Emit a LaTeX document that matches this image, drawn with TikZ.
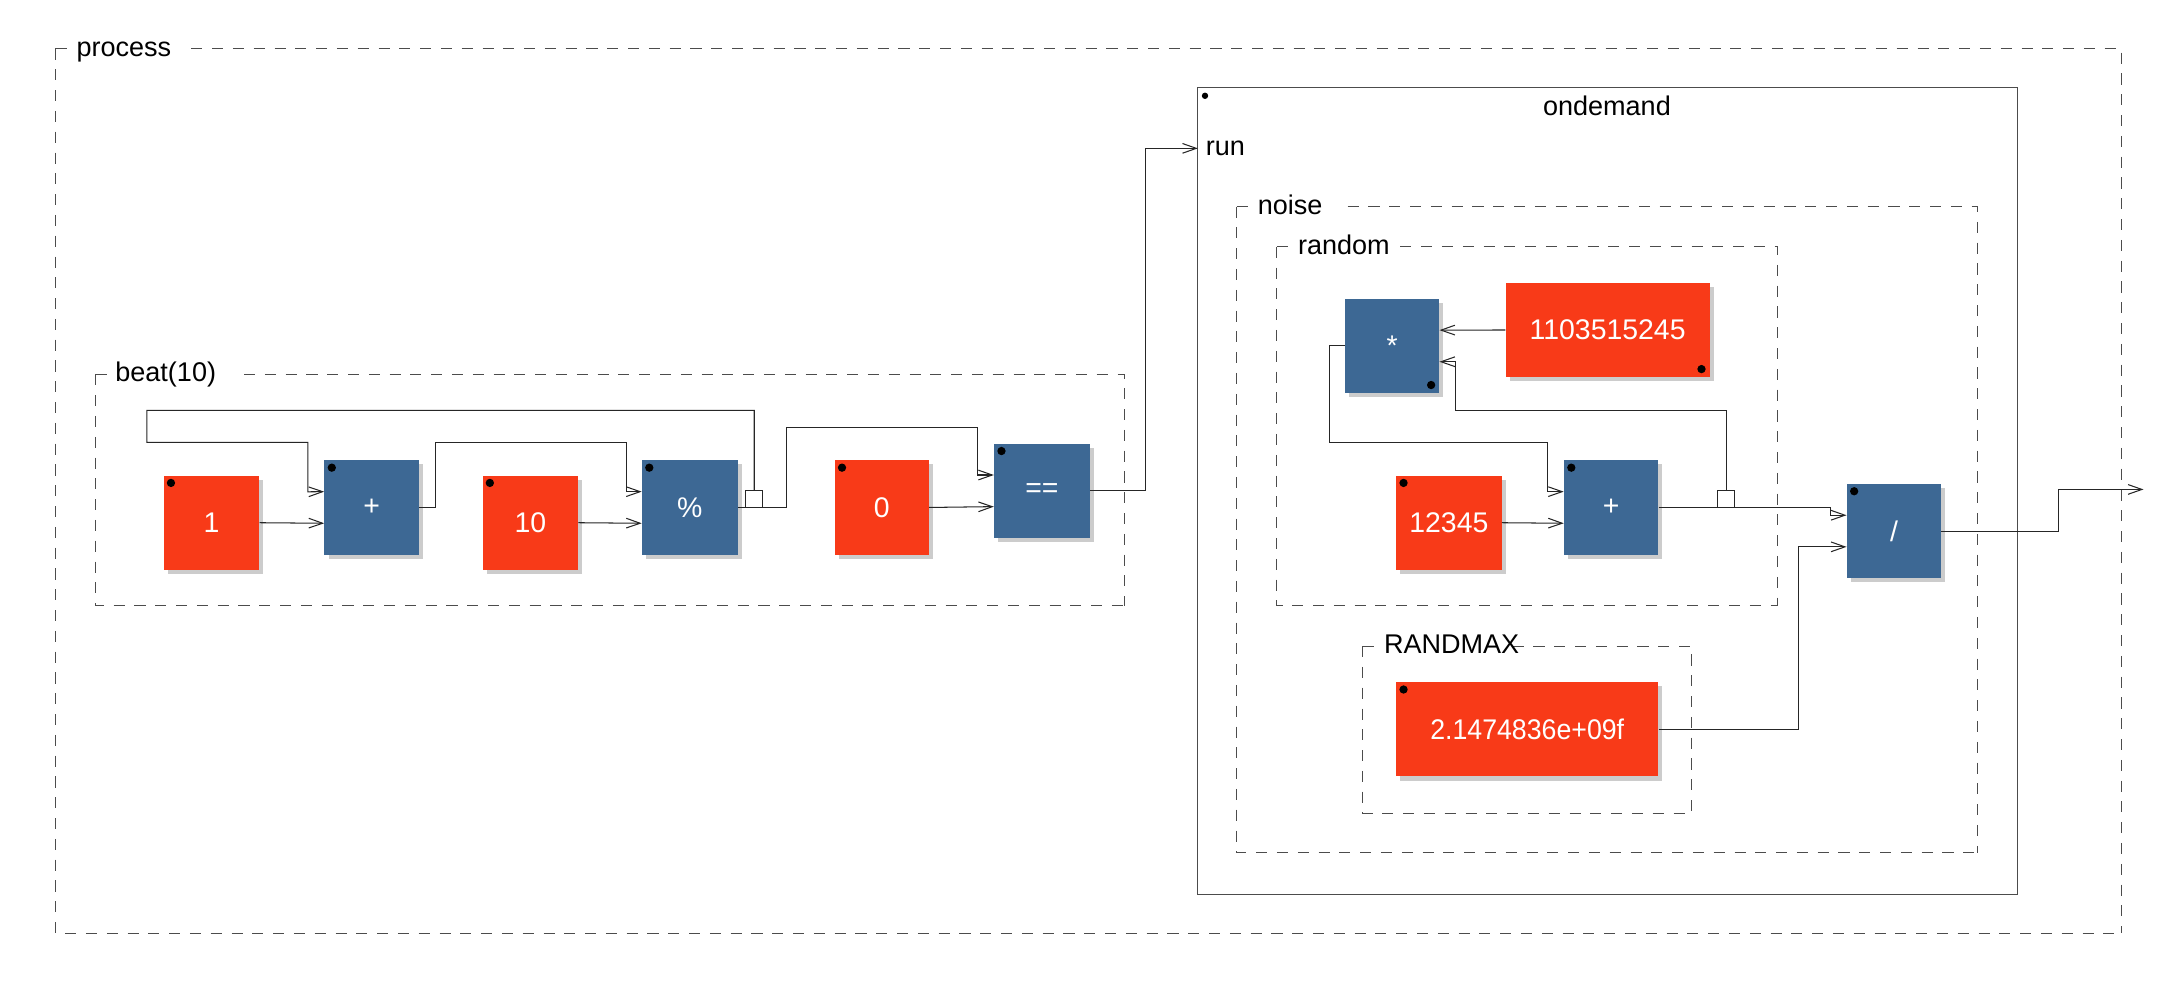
\documentclass[tikz,border=0pt]{standalone}
\usepackage{fontspec}
\usepackage{graphicx}
\newfontfamily\diafont{Liberation Sans}
\usetikzlibrary{arrows.meta,shadows,calc}
\definecolor{numred}{HTML}{F83A18}
\definecolor{opblue}{HTML}{3D6894}
\definecolor{shadowgray}{HTML}{CCCCCC}
\newcommand{\dfont}{\diafont\fontsize{19.5}{23}\selectfont}
\newcommand{\bfontx}{\diafont\fontsize{20.5}{24}\selectfont}
\tikzset{
  wire/.style={line width=0.75pt, draw=black!85},
  arr/.style={-{Straight Barb[length=10pt,width=7pt,line width=0.75pt]}},
  blk/.style={minimum width=68pt, minimum height=68pt, inner sep=0pt, text=white, font=\bfontx,
    general shadow={fill=shadowgray, shadow xshift=3pt, shadow yshift=-3pt}},
  numblk/.style={blk, fill=numred},
  opblk/.style={blk, fill=opblue},
  grp/.style={draw=black!70, line width=0.75pt, dash pattern=on 8pt off 7pt},
  lbl/.style={font=\dfont, inner sep=0pt, anchor=base west, text=black},
  delaybox/.style={draw=black!85, fill=white, line width=0.75pt, minimum size=12pt, inner sep=0pt},
  dotc/.style={fill=black},
}
\begin{document}
\begin{tikzpicture}[x=1pt,y=-1pt]
\path[use as bounding box, fill=white] (0,0) rectangle (1568,713);

% ---------- group boxes ----------
% process
\draw[grp] (40,35) -- (49,35);
\draw[grp] (40,35) -- (40,673) -- (1530,673);
\draw[grp] (138,35) -- (1530,35) -- (1530,673);
\node[lbl] (lprocess) at (55,40.5) {process};
% beat(10)
\draw[grp] (69,270) -- (78,270);
\draw[grp] (69,270) -- (69,437) -- (811,437);
\draw[grp] (176,270) -- (811,270) -- (811,437);
\node[lbl] (lbeat) at (83,275.5) {beat(10)};
% noise
\draw[grp] (892,149) -- (901,149);
\draw[grp] (892,149) -- (892,615) -- (1426,615);
\draw[grp] (972,149) -- (1426,149) -- (1426,615);
\node[lbl] (lnoise) at (907,154.5) {noise};
% random
\draw[grp] (921,178) -- (930,178);
\draw[grp] (921,178) -- (921,437) -- (1282,437);
\draw[grp] (1010,178) -- (1282,178) -- (1282,437);
\node[lbl] (lrandom) at (936,183.5) {random};
% RANDMAX
\draw[grp] (983,466) -- (992,466);
\draw[grp] (983,466) -- (983,587) -- (1220,587);
\draw[grp] (1091,466) -- (1220,466) -- (1220,587);
\node[lbl] (lrandmax) at (998,471.5) {RANDMAX};

% ondemand
\node[draw=black!70, line width=0.8pt, minimum width=591pt, minimum height=582pt, inner sep=0pt] (ondemand) at (1159.5,354) {};
\fill[dotc] ($(ondemand.north west)+(5.5,6.5)$) circle[radius=2.3];
\node[font=\dfont, inner sep=0pt, anchor=base] (lod) at (1159,83) {ondemand};
\node[lbl] (lrun) at (869.5,112.5) {run};
\coordinate (od-in) at (864,107);

% ---------- blocks ----------
\node[numblk, minimum width=69pt] (one) at (152.5,377) {1};
\node[opblk] (plusA) at (268,366) {+};
\node[numblk, minimum width=69pt] (ten) at (382.5,377) {10};
\node[opblk, minimum width=69pt] (mod) at (497.5,366) {\%};
\node[numblk] (zero) at (636,366) {0};
\node[opblk, minimum width=69pt] (eq) at (751.5,354) {==};

\node[opblk] (mul) at (1004,249.5) {*};
\node[numblk, minimum width=147pt] (big) at (1159.5,238) {1103515245};
\node[numblk, minimum width=76pt] (kb) at (1045,377) {12345};
\node[opblk] (plusB) at (1162,366) {+};
\node[opblk] (div) at (1366,383) {/};
\node[numblk, minimum width=189pt] (rmax) at (1101.5,526) {\scalebox{0.94}[1]{2.1474836e+09f}};

% dots
\foreach \n in {one,plusA,ten,mod,zero,eq,kb,plusB,div,rmax}
  \fill[dotc] ($(\n.north west)+(5.5,5.5)$) circle[radius=3];
\foreach \n in {mul,big}
  \fill[dotc] ($(\n.south east)+(-6,-6)$) circle[radius=3];

% ports
\foreach \n in {plusA,mod,eq,plusB,div} {
  \coordinate (\n-in1) at ($(\n.north west)!1/3!(\n.south west)$);
  \coordinate (\n-in2) at ($(\n.north west)!2/3!(\n.south west)$);
}
\coordinate (mul-in1) at ($(mul.north east)!1/3!(mul.south east)$);
\coordinate (mul-in2) at ($(mul.north east)!2/3!(mul.south east)$);
\coordinate (outp) at (1546,353);

% delay squares
\node[delaybox] (d1) at (544,360) {};
\node[delaybox] (d2) at (1245,360) {};

% ---------- wires ----------
\draw[wire,arr] (one.east) -- (plusA-in2);
\draw[wire,arr] (plusA.east) -- (314,366) |- (452,319) |- (mod-in1);
\draw[wire,arr] (ten.east) -- (mod-in2);
\draw[wire,arr] (d1.north) |- (106,296) -- (106,319) -| (222,354.7) -- (plusA-in1);
\draw[wire,arr] (mod.east) -- (567,366) |- (705,308) |- (eq-in1);
\draw[wire,arr] (zero.east) -- (eq-in2);
\draw[wire,arr] (eq.east) -- (826,354) |- (od-in);

\draw[wire,arr] (big.west) -- (mul-in1);
\draw[wire,arr] (mul.west) -- (959,249.5) |- (1116,319) |- (plusB-in1);
\draw[wire,arr] (kb.east) -- (plusB-in2);
\draw[wire,arr] (d2.north) |- (1050,296) |- (mul-in2);
\draw[wire,arr] (plusB.east) -- (1320,366) |- (div-in1);
\draw[wire,arr] (rmax.east) -- (1297,526) |- (div-in2);
\draw[wire,arr] (div.east) -- (1485,383) |- (outp);
\end{tikzpicture}
\end{document}
